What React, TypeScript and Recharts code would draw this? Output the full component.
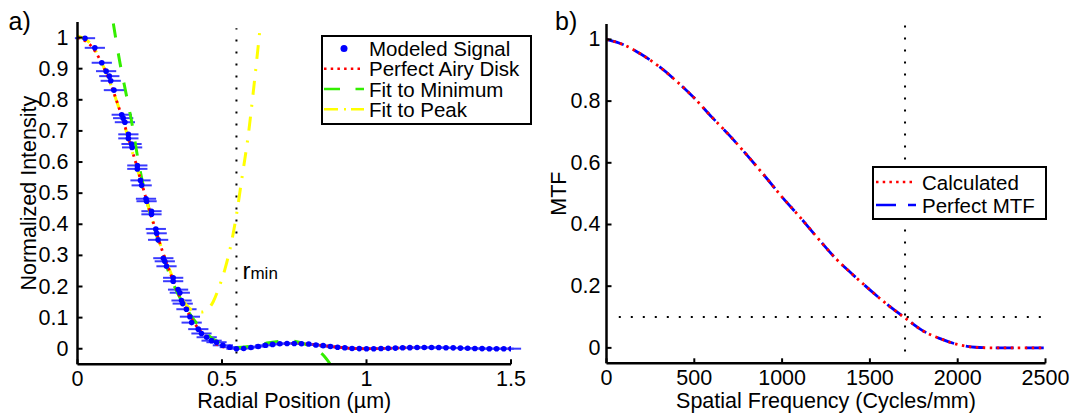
import React from 'react';
import {
  ComposedChart,
  Line,
  Scatter,
  ErrorBar,
  XAxis,
  YAxis,
  ReferenceLine,
  ReferenceDot,
  Legend,
} from 'recharts';

const FONT = '"Liberation Sans", Arial, Helvetica, sans-serif';
const TICK_FONT = 21.5;
const LABEL_FONT = 21.5;
const LEGEND_FONT = 20.5;

// ---- panel a) radial profile ----
const radialTicks = [0, 0.5, 1, 1.5];
const intensityTicks = [0, 0.1, 0.2, 0.3, 0.4, 0.5, 0.6, 0.7, 0.8, 0.9, 1];

const modeledX = [
  0.026, 0.06, 0.084, 0.099, 0.11, 0.115, 0.126, 0.153, 0.158, 0.164, 0.176, 0.176, 0.187, 0.189,
  0.207, 0.207, 0.218, 0.222, 0.237, 0.239, 0.256, 0.256, 0.271, 0.274, 0.279, 0.297, 0.302, 0.308,
  0.331, 0.331, 0.348, 0.354, 0.36, 0.364, 0.377, 0.389, 0.395, 0.418, 0.429, 0.447, 0.464, 0.481,
  0.503, 0.527, 0.55, 0.575, 0.6, 0.625, 0.65, 0.675, 0.7, 0.725, 0.75, 0.775, 0.8, 0.825, 0.85,
  0.875, 0.9, 0.925, 0.95, 0.975, 1, 1.025, 1.05, 1.075, 1.1, 1.125, 1.15, 1.175, 1.2, 1.225, 1.25,
  1.275, 1.3, 1.325, 1.35, 1.375, 1.4, 1.425, 1.45, 1.475, 1.5,
];
const modeledY = [
  0.998, 0.967, 0.919, 0.892, 0.876, 0.861, 0.831, 0.752, 0.741, 0.728, 0.689, 0.676, 0.658, 0.647,
  0.589, 0.578, 0.541, 0.525, 0.482, 0.474, 0.442, 0.432, 0.385, 0.371, 0.35, 0.291, 0.281, 0.265,
  0.228, 0.217, 0.19, 0.18, 0.155, 0.145, 0.127, 0.103, 0.084, 0.063, 0.049, 0.037, 0.026, 0.021,
  0.011, 0.005, 0, 0.001, 0.004, 0.007, 0.011, 0.014, 0.016, 0.017, 0.017, 0.016, 0.015, 0.012, 0.01,
  0.007, 0.005, 0.003, 0.001, 0.0005, 0, 0.0002, 0.0006, 0.0012, 0.002, 0.003, 0.0035, 0.004, 0.0041,
  0.004, 0.0038, 0.0033, 0.0028, 0.002, 0.0015, 0.0009, 0.0005, 0.0002, 0, 0.0001, 0.0002,
];
const modeledErrX = 0.035;

const airyX = [
  0, 0.05, 0.1, 0.15, 0.2, 0.25, 0.3, 0.35, 0.4, 0.45, 0.5, 0.55, 0.6, 0.65, 0.7, 0.75, 0.8, 0.85,
  0.9, 0.95, 1, 1.05, 1.1, 1.15, 1.2, 1.25, 1.3, 1.35, 1.4, 1.45, 1.5,
];
const airyY = [
  1, 0.97, 0.885, 0.756, 0.603, 0.443, 0.297, 0.176, 0.088, 0.034, 0.007, 0, 0.004, 0.011, 0.016,
  0.017, 0.015, 0.01, 0.005, 0.001, 0, 0.0006, 0.002, 0.0035, 0.0041, 0.0038, 0.0028, 0.0015, 0.0005,
  0, 0.0002,
];

const fitMinX = [
  0.124, 0.147, 0.17, 0.19, 0.21, 0.25, 0.28, 0.33, 0.39, 0.45, 0.5, 0.55, 0.6, 0.65, 0.7, 0.74, 0.77,
  0.8, 0.83, 0.85, 0.875,
];
const fitMinY = [
  1.045, 0.918, 0.811, 0.716, 0.605, 0.44, 0.345, 0.212, 0.11, 0.045, 0.015, 0.004, 0.008, 0.017,
  0.024, 0.025, 0.02, 0.01, -0.006, -0.02, -0.05,
];

const fitPeakX = [
  0, 0.05, 0.1, 0.15, 0.2, 0.25, 0.3, 0.35, 0.37, 0.39, 0.41, 0.43, 0.45, 0.47, 0.49, 0.51, 0.53, 0.55,
  0.57, 0.59, 0.61, 0.63,
];
const fitPeakY = [
  1.005, 0.975, 0.885, 0.755, 0.6, 0.44, 0.3, 0.185, 0.148, 0.128, 0.119, 0.118, 0.126, 0.152, 0.198,
  0.255, 0.33, 0.43, 0.555, 0.68, 0.84, 1.015,
];

const rMin = 0.55;

// ---- panel b) MTF ----
const freqTicks = [0, 500, 1000, 1500, 2000, 2500];
const mtfTicks = [0, 0.2, 0.4, 0.6, 0.8, 1];
const freqs = [
  0, 100, 200, 300, 400, 500, 600, 700, 800, 900, 1000, 1100, 1200, 1300, 1400, 1500, 1600, 1700,
  1800, 1900, 2000, 2100, 2200, 2300, 2400, 2500,
];
const mtfCalculated = [
  1, 0.982, 0.951, 0.912, 0.864, 0.81, 0.748, 0.689, 0.625, 0.558, 0.489, 0.425, 0.358, 0.293, 0.239,
  0.188, 0.14, 0.097, 0.056, 0.03, 0.011, 0.002, 0, 0, 0, 0,
];
const mtfPerfect = [
  1, 0.982, 0.951, 0.912, 0.864, 0.81, 0.748, 0.689, 0.625, 0.558, 0.489, 0.425, 0.358, 0.293, 0.239,
  0.188, 0.14, 0.097, 0.056, 0.03, 0.011, 0.002, 0, 0, 0, 0,
];
const cutoffFreq = 1700;
const mtfLevel = 0.1;

const toPoints = (xs: number[], ys: number[]) => xs.map((x, i) => ({ x, y: ys[i] }));

const modeledPoints = modeledX.map((x, i) => ({ x, y: modeledY[i], ex: modeledErrX }));
const airyPoints = toPoints(airyX, airyY);
const fitMinPoints = toPoints(fitMinX, fitMinY);
const fitPeakPoints = toPoints(fitPeakX, fitPeakY);
const mtfCalcPoints = toPoints(freqs, mtfCalculated);
const mtfPerfectPoints = toPoints(freqs, mtfPerfect);

// MATLAB-ish inward ticks
const YTick = (props: any) => {
  const { x, y, payload, gap } = props;
  return (
    <g>
      <line x1={x + gap} x2={x + gap + 5} y1={y} y2={y} stroke="#000" strokeWidth={2} />
      <text x={x} y={y} textAnchor="end" dominantBaseline="central" fontSize={TICK_FONT} fontFamily={FONT} fill="#000">
        {payload.value}
      </text>
    </g>
  );
};

const XTick = (props: any) => {
  const { x, y, payload, gap } = props;
  return (
    <g>
      <line x1={x} x2={x} y1={y - gap} y2={y - gap - 5} stroke="#000" strokeWidth={2} />
      <text x={x} y={y} textAnchor="middle" dominantBaseline="central" fontSize={TICK_FONT} fontFamily={FONT} fill="#000">
        {payload.value}
      </text>
    </g>
  );
};

const yTitle = (text: string, cx: number) => (props: any) => {
  const vb = props.viewBox;
  const cy = vb.y + vb.height / 2;
  return (
    <text
      transform={`translate(${cx}, ${cy}) rotate(-90)`}
      textAnchor="middle"
      dominantBaseline="central"
      fontSize={LABEL_FONT}
      fontFamily={FONT}
      fill="#000"
    >
      {text}
    </text>
  );
};

const xTitle = (text: string, baseline: number) => (props: any) => {
  const vb = props.viewBox;
  return (
    <text x={vb.x + vb.width / 2} y={baseline} textAnchor="middle" fontSize={LABEL_FONT} fontFamily={FONT} fill="#000">
      {text}
    </text>
  );
};

const RminLabel = (props: any) => {
  const vb = props.viewBox;
  return (
    <text x={vb.x + 6} y={vb.y} fontFamily={FONT} fill="#000">
      <tspan fontSize={24}>r</tspan>
      <tspan fontSize={17}>min</tspan>
    </text>
  );
};

type LegendItem = { name: string; color: string; kind: 'dot' | 'line'; dash?: string };

const leftLegend: LegendItem[] = [
  { name: 'Modeled Signal', color: '#0000ff', kind: 'dot' },
  { name: 'Perfect Airy Disk', color: '#ff0000', kind: 'line', dash: '2.5 4.2' },
  { name: 'Fit to Minimum', color: '#33ee00', kind: 'line', dash: '16 15.5' },
  { name: 'Fit to Peak', color: '#ffff00', kind: 'line', dash: '14 6 2 5' },
];
const rightLegend: LegendItem[] = [
  { name: 'Calculated', color: '#ff0000', kind: 'line', dash: '2.5 4.2' },
  { name: 'Perfect MTF', color: '#0000ff', kind: 'line', dash: '20 12' },
];

const LegendBox = ({ items, width, height, firstRow, rowGap, symX0, symX1, textX }: any) => (
  <div style={{ width, height, border: '2px solid #000', background: '#fff', boxSizing: 'border-box' }}>
    <svg width={width - 4} height={height - 4} style={{ display: 'block' }}>
      {items.map((it: LegendItem, i: number) => {
        const cy = firstRow + i * rowGap;
        return (
          <g key={it.name}>
            {it.kind === 'dot' ? (
              <circle cx={(symX0 + symX1) / 2} cy={cy} r={3.5} fill={it.color} />
            ) : (
              <line x1={symX0} x2={symX1} y1={cy} y2={cy} stroke={it.color} strokeWidth={2.5} strokeDasharray={it.dash} />
            )}
            <text x={textX} y={cy} dominantBaseline="central" fontSize={LEGEND_FONT} fontFamily={FONT} fill="#000">
              {it.name}
            </text>
          </g>
        );
      })}
    </svg>
  </div>
);

const dotShape = (props: any) => <circle cx={props.cx} cy={props.cy} r={2.8} fill="#0000ff" />;

const axisLine = { stroke: '#000', strokeWidth: 2.5 };
const dotted = { stroke: '#000', strokeWidth: 2, strokeDasharray: '2 10' };

export default function App() {
  return (
    <div style={{ position: 'absolute', left: 0, top: 0, width: 1074, height: 416, background: '#fff', fontFamily: FONT, overflow: 'hidden' }}>
      <div style={{ position: 'absolute', left: 0, top: 0 }}>
        <ComposedChart width={540} height={416} margin={{ top: 22, right: 29, bottom: 0, left: 0 }}>
          <XAxis
            dataKey="x"
            type="number"
            domain={[0, 1.5]}
            ticks={radialTicks}
            allowDataOverflow
            height={51.7}
            axisLine={axisLine}
            tickLine={false}
            tickSize={0}
            tickMargin={14.5}
            tick={(p: any) => <XTick {...p} gap={14.5} />}
            label={xTitle('Radial Position (µm)', 407.5)}
          />
          <YAxis
            type="number"
            domain={[-0.05, 1.05]}
            ticks={intensityTicks}
            allowDataOverflow
            width={77.5}
            axisLine={axisLine}
            tickLine={false}
            tickSize={0}
            tickMargin={9}
            tick={(p: any) => <YTick {...p} gap={9} />}
            label={yTitle('Normalized Intensity', 28.5)}
          />
          <ReferenceLine
            segment={[{ x: rMin, y: -0.015 }, { x: rMin, y: 1.03 }]}
            {...dotted}
            ifOverflow="visible"
          />
          <ReferenceDot x={rMin} y={0.225} r={0} fill="none" stroke="none" label={RminLabel} />
          <Scatter
            name="Modeled Signal"
            data={modeledPoints}
            dataKey="y"
            shape={dotShape}
            isAnimationActive={false}
          >
            <ErrorBar dataKey="ex" direction="x" width={0} stroke="#3a3aff" strokeWidth={2} isAnimationActive={false} />
          </Scatter>
          <Line
            name="Fit to Minimum"
            data={fitMinPoints}
            dataKey="y"
            type="monotone"
            stroke="#33ee00"
            strokeWidth={3}
            strokeDasharray="14 16"
            dot={false}
            activeDot={false}
            isAnimationActive={false}
          />
          <Line
            name="Fit to Peak"
            data={fitPeakPoints}
            dataKey="y"
            type="monotone"
            stroke="#ffff00"
            strokeWidth={3}
            strokeDasharray="14 10 2 10"
            dot={false}
            activeDot={false}
            isAnimationActive={false}
          />
          <Line
            name="Perfect Airy Disk"
            data={airyPoints}
            dataKey="y"
            type="monotone"
            stroke="#ff0000"
            strokeWidth={2.8}
            strokeDasharray="2.5 4.5"
            dot={false}
            activeDot={false}
            isAnimationActive={false}
          />
          <Legend
            layout="vertical"
            align="center"
            verticalAlign="middle"
            wrapperStyle={{ left: 320.5, top: 35.3, width: 211, height: 89.4 }}
            content={() => (
              <LegendBox items={leftLegend} width={211} height={89.4} firstRow={11.4} rowGap={20.3} symX0={1} symX1={41} textX={46} />
            )}
          />
        </ComposedChart>
      </div>

      <div style={{ position: 'absolute', left: 540, top: 0 }}>
        <ComposedChart width={534} height={416} margin={{ top: 24, right: 28.5, bottom: 0, left: 0 }}>
          <XAxis
            dataKey="x"
            type="number"
            domain={[0, 2500]}
            ticks={freqTicks}
            allowDataOverflow
            height={52.7}
            axisLine={axisLine}
            tickLine={false}
            tickSize={0}
            tickMargin={15}
            tick={(p: any) => <XTick {...p} gap={15} />}
            label={xTitle('Spatial Frequency (Cycles/mm)', 407.5)}
          />
          <YAxis
            type="number"
            domain={[-0.05, 1.05]}
            ticks={mtfTicks}
            allowDataOverflow
            width={66.5}
            axisLine={axisLine}
            tickLine={false}
            tickSize={0}
            tickMargin={6}
            tick={(p: any) => <YTick {...p} gap={6} />}
            label={yTitle('MTF', 19)}
          />
          <ReferenceLine
            segment={[{ x: cutoffFreq, y: -0.012 }, { x: cutoffFreq, y: 1.045 }]}
            {...dotted}
            ifOverflow="visible"
          />
          <ReferenceLine
            segment={[{ x: 70, y: mtfLevel }, { x: 2480, y: mtfLevel }]}
            {...dotted}
            ifOverflow="visible"
          />
          <Line
            name="Perfect MTF"
            data={mtfPerfectPoints}
            dataKey="y"
            type="monotone"
            stroke="#0000ff"
            strokeWidth={2.8}
            strokeDasharray="18 12"
            dot={false}
            activeDot={false}
            isAnimationActive={false}
          />
          <Line
            name="Calculated"
            data={mtfCalcPoints}
            dataKey="y"
            type="monotone"
            stroke="#ff0000"
            strokeWidth={2.8}
            strokeDasharray="2.5 4.5"
            dot={false}
            activeDot={false}
            isAnimationActive={false}
          />
          <Legend
            layout="vertical"
            align="center"
            verticalAlign="middle"
            wrapperStyle={{ left: 331.6, top: 166, width: 175, height: 54 }}
            content={() => (
              <LegendBox items={rightLegend} width={175} height={54} firstRow={14} rowGap={23} symX0={2} symX1={42} textX={48} />
            )}
          />
        </ComposedChart>
      </div>

      <svg width={1074} height={416} style={{ position: 'absolute', left: 0, top: 0, pointerEvents: 'none' }}>
        <text x={8.5} y={29.5} fontSize={25} fontFamily={FONT} fill="#000">a)</text>
        <text x={555} y={29.5} fontSize={25} fontFamily={FONT} fill="#000">b)</text>
      </svg>
    </div>
  );
}
